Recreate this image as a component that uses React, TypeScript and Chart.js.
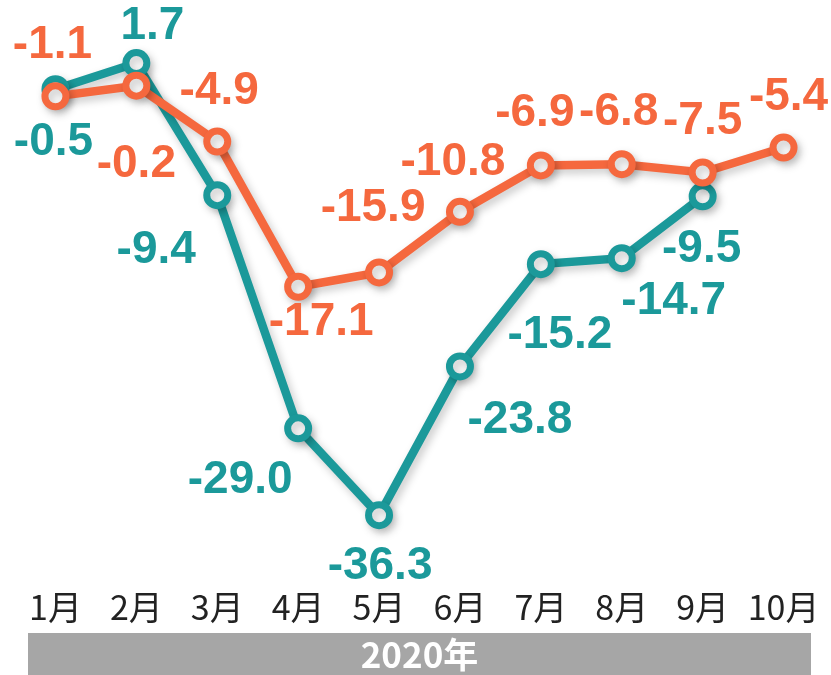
import React, { useEffect, useRef } from "react";
import { Chart, registerables } from "chart.js";

Chart.register(...registerables);

// ---- data ----
const months = ["1月", "2月", "3月", "4月", "5月", "6月", "7月", "8月", "9月", "10月"];
const yearLabel = "2020年";
const orangeValues = [-1.1, -0.2, -4.9, -17.1, -15.9, -10.8, -6.9, -6.8, -7.5, -5.4];
const tealValues = [-0.5, 1.7, -9.4, -29.0, -36.3, -23.8, -15.2, -14.7, -9.5, null];

// label offsets (dx, dy) from each point, in px
const orangeLabelOffsets = [[-3, -51], [0, 79], [2, -50], [23, 36], [-6, -64], [-7, -49], [-6, -52], [-3, -52], [0, -51], [5, -50]];
const tealLabelOffsets = [[-2, 53], [16, -37], [-61, 55], [-58, 52], [1, 51], [60, 54], [19, 71], [52, 43], [-1, 53], [0, 0]];

const ORANGE = "#f5683e";
const TEAL = "#1b999a";

const shadowPlugin = {
  id: "lineShadow",
  beforeDatasetsDraw(chart: any) {
    const ctx = chart.ctx;
    ctx.save();
    ctx.shadowColor = "rgba(0,0,0,0.22)";
    ctx.shadowBlur = 8;
    ctx.shadowOffsetX = 3;
    ctx.shadowOffsetY = 4;
  },
  afterDatasetsDraw(chart: any) {
    chart.ctx.restore();
  },
};

const labelPlugin = {
  id: "valueLabels",
  afterDatasetsDraw(chart: any) {
    const ctx = chart.ctx;
    const offsetsByDataset = [orangeLabelOffsets, tealLabelOffsets];
    ctx.save();
    ctx.font = "bold 46px 'Liberation Sans', Arial, sans-serif";
    ctx.textAlign = "center";
    ctx.textBaseline = "middle";
    chart.data.datasets.forEach((ds: any, di: number) => {
      const meta = chart.getDatasetMeta(di);
      ctx.fillStyle = ds.borderColor;
      meta.data.forEach((el: any, i: number) => {
        const v = ds.data[i];
        if (v === null || v === undefined) return;
        const [dx, dy] = offsetsByDataset[di][i];
        ctx.fillText(v.toFixed(1), el.x + dx, el.y + dy);
      });
    });
    ctx.restore();
  },
};

const bandPlugin = {
  id: "yearBand",
  afterDraw(chart: any) {
    const ctx = chart.ctx;
    const left = 28;
    const right = chart.width - 20;
    const top = chart.height - 42;
    ctx.save();
    ctx.fillStyle = "#a6a6a6";
    ctx.fillRect(left, top, right - left, chart.height - top);
    ctx.fillStyle = "#ffffff";
    ctx.font = "bold 35px 'Noto Sans CJK JP', sans-serif";
    ctx.textAlign = "center";
    ctx.textBaseline = "middle";
    ctx.fillText(yearLabel, (left + right) / 2, top + 22);
    ctx.restore();
  },
};

export default function App() {
  const ref = useRef<HTMLCanvasElement>(null);

  useEffect(() => {
    if (!ref.current) return;
    const common = {
      borderWidth: 8.5,
      tension: 0,
      pointRadius: 10.5,
      pointHoverRadius: 10.5,
      pointBorderWidth: 7,
      pointBackgroundColor: "#ffffff",
      clip: false as any,
    };
    const chart = new Chart(ref.current, {
      type: "line",
      data: {
        labels: months,
        datasets: [
          {
            ...common,
            data: orangeValues,
            borderColor: ORANGE,
            backgroundColor: ORANGE,
            pointBorderColor: ORANGE,
          },
          {
            ...common,
            data: tealValues,
            borderColor: TEAL,
            backgroundColor: TEAL,
            pointBorderColor: TEAL,
            spanGaps: false,
          },
        ],
      },
      options: {
        responsive: false,
        animation: false,
        layout: { autoPadding: false, padding: { left: 15, right: 7, top: 0, bottom: 42 } },
        plugins: {
          legend: { display: false },
          tooltip: { enabled: false },
          title: { display: false },
        },
        scales: {
          x: {
            type: "category",
            offset: true,
            grid: { display: false, drawTicks: false },
            border: { display: false },
            ticks: {
              color: "#222222",
              padding: 4,
              maxRotation: 0,
              autoSkip: false,
              font: { family: "'Noto Sans CJK JP', sans-serif", size: 34 },
            },
            afterFit(scale: any) {
              scale.height = 50;
            },
          },
          y: {
            display: false,
            min: -42,
            max: 7,
          },
        },
      },
      plugins: [shadowPlugin, labelPlugin, bandPlugin],
    });
    return () => chart.destroy();
  }, []);

  return (
    <div style={{ position: "absolute", left: 0, top: 0, width: 831, height: 675, background: "#ffffff" }}>
      <canvas ref={ref} width={831} height={675} />
    </div>
  );
}
